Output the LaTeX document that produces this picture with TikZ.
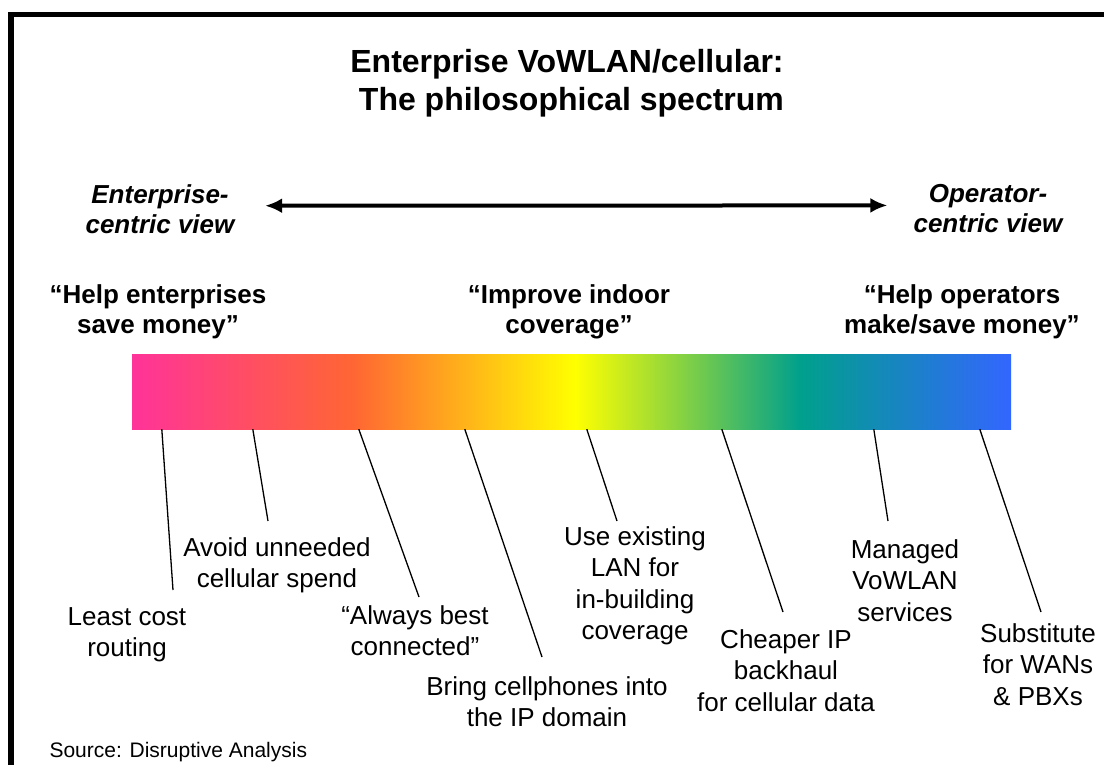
\documentclass[tikz,border=0pt]{standalone}
\usepackage{fontspec}
\setmainfont{Liberation Sans}
\usetikzlibrary{arrows.meta,calc}

\definecolor{specpink}{HTML}{FF3399}
\definecolor{specorange}{HTML}{FF6633}
\definecolor{specyellow}{HTML}{FFFF00}
\definecolor{specteal}{HTML}{00A08C}
\definecolor{specblue}{HTML}{3366FF}

% the bar covers 25bp..75bp of the shading
\pgfdeclarehorizontalshading{spectrum}{100bp}{color(0bp)=(specpink); color(25bp)=(specpink);
  color(37.6bp)=(specorange); color(50.2bp)=(specyellow); color(63bp)=(specteal);
  color(75bp)=(specblue); color(100bp)=(specblue)}

\tikzset{
  headline/.style={font=\fontsize{32}{38}\selectfont\bfseries, align=center, inner sep=0pt},
  view/.style={font=\fontsize{26}{30}\selectfont\bfseries\itshape, align=center, inner sep=0pt},
  claim/.style={font=\fontsize{26}{30}\selectfont\bfseries, align=center, inner sep=0pt},
  idea/.style={font=\fontsize{26}{31.5}\selectfont, align=center, inner sep=0pt},
}

\begin{document}
\begin{tikzpicture}[x=1pt,y=-1pt]
        \useasboundingbox (0,0) rectangle (1104,765);
        % frame runs off the page on the right and at the bottom
        \draw[line width=5.7pt] (11.2,790) -- (11.2,14.5) -- (1130,14.5);

        \node[headline, anchor=north] (head) at (567,49) {Enterprise VoWLAN/cellular:\\~The philosophical spectrum};

        % the two ends of the spectrum
        \node[view, anchor=north] (entview) at (160,184) {Enterprise-\\centric view};
        \node[view, anchor=north] (opview) at (988,184) {Operator-\\centric view};
        \draw[line width=4pt, >={Latex[length=17pt,width=15pt]}, <->, shorten <=30.5pt, shorten >=26pt]
          ([yshift=3pt]entview.east) -- ([yshift=3pt]opview.west);

        \node[claim, anchor=north] (saveq) at (158,284) {“Help enterprises\\save money”};
        \node[claim, anchor=north] (coverq) at (569,284) {“Improve indoor\\coverage”};
        \node[claim, anchor=north] (makeq) at (962,284) {“Help operators\\make/save money”};

        \node[shade, shading=spectrum, minimum width=879pt, minimum height=75pt, inner sep=0pt] (bar) at (571.5,391.5) {};

        % ideas along the spectrum
        \node[idea, anchor=north] (lcr) at (127,607) {Least cost\\routing};
        \node[idea, anchor=north] (avoid) at (277,537) {Avoid unneeded\\cellular spend};
        \node[idea, anchor=north] (abc) at (415,605) {“Always best\\connected”};
        \node[idea, anchor=north] (bring) at (547,676) {Bring cellphones into\\the IP domain};
        \node[idea, anchor=north] (lan) at (635,526) {Use existing\\LAN for\\in-building\\coverage};
        \node[idea, anchor=north] (backhaul) at (786,629) {Cheaper IP\\backhaul\\for cellular data};
        \node[idea, anchor=north] (managed) at (905,539) {Managed\\VoWLAN\\services};
        \node[idea, anchor=north] (wans) at (1038,623) {Substitute\\for WANs\\\& PBXs};

        \foreach \off/\ex/\ey/\nm in {30/173/590/lcr, 121/268/521/avoid, 227/419/597/abc, 333/542/657/bring,
                                      455/617/521/lan, 590/783/612/backhaul, 742/888/521/managed, 848/1041/612/wans}
        {
          \coordinate (\nm end) at (\ex,\ey);
          \draw[line width=1.3pt] ($(bar.south west)+(\off,0)$) -- (\nm end);
        }

        \node[anchor=base west, font=\fontsize{21}{25}\selectfont] (src) at (46,757) {Source: Disruptive Analysis};
\end{tikzpicture}
\end{document}
